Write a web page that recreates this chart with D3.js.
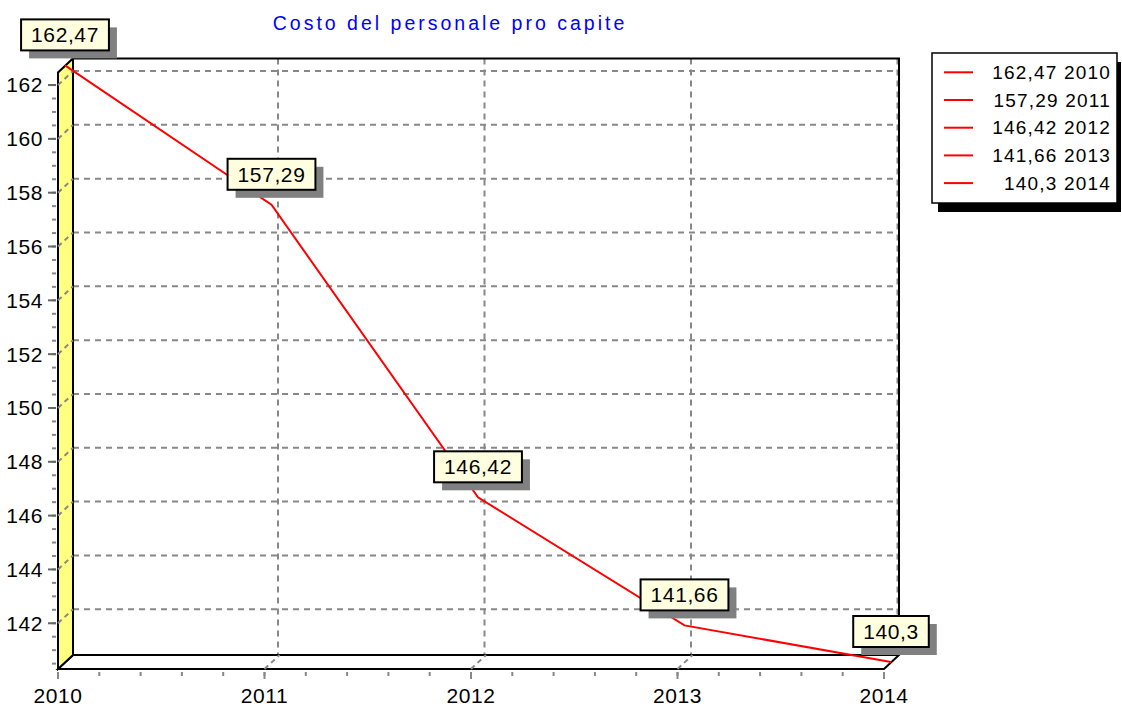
<!DOCTYPE html>
<html>
<head>
<meta charset="utf-8">
<script src="https://cdn.jsdelivr.net/npm/d3@7/dist/d3.min.js"></script>
<style>
  body { margin: 0; background: #fff; }
  svg { display: block; font-family: "Liberation Sans", Arial, sans-serif; }
</style>
</head>
<body>
<div id="chart"></div>
<script>
var title = 'Costo del personale pro capite';
var years = [2010, 2011, 2012, 2013, 2014];
var values = [162.47, 157.29, 146.42, 141.66, 140.3];

var width = 1122, height = 707;
var depth = {x: 15, y: 14};     // 3d offset of back wall
var half = {x: 7, y: 7};        // series drawn at mid depth

var svg = d3.select('#chart').append('svg')
  .attr('width', width)
  .attr('height', height);

var x = d3.scaleLinear().domain(d3.extent(years)).range([58, 884]);
var y = d3.scaleLinear().domain(d3.extent(values)).range([669, 72.4]);

function fmt(v) { return String(v).replace('.', ','); }

var x0 = x.range()[0], x1 = x.range()[1];
var y0 = y.range()[0], y1 = y.range()[1];
var grid = '#888';

// back wall
svg.append('rect')
  .attr('x', x0 + depth.x).attr('y', y1 - depth.y)
  .attr('width', x1 - x0).attr('height', y0 - y1)
  .attr('fill', '#fff');

var majorY = y.ticks(10);
var minorY = y.ticks(40);
var minorX = x.ticks(16);

// grid on back wall
var gridLayer = svg.append('g')
  .attr('stroke', grid).attr('stroke-width', 2).attr('stroke-dasharray', '6,5').attr('fill', 'none');

gridLayer.selectAll('line.h').data(majorY).enter().append('line')
  .attr('x1', x0 + depth.x).attr('x2', x1 + depth.x)
  .attr('y1', function(d) { return y(d) - depth.y; })
  .attr('y2', function(d) { return y(d) - depth.y; });

gridLayer.selectAll('line.v').data(years).enter().append('line')
  .attr('x1', function(d) { return x(d) + depth.x - 1.5; })
  .attr('x2', function(d) { return x(d) + depth.x - 1.5; })
  .attr('y1', y1 - depth.y).attr('y2', y0 - depth.y);

// back wall border
svg.append('path')
  .attr('d', 'M' + (x0 + depth.x) + ' ' + (y1 - depth.y) +
    'H' + (x1 + depth.x) + 'V' + (y0 - depth.y))
  .attr('fill', 'none').attr('stroke', '#000').attr('stroke-width', 2);

// floor
svg.append('path')
  .attr('d', 'M' + x0 + ' ' + y0 + 'L' + x1 + ' ' + y0 +
    'L' + (x1 + depth.x) + ' ' + (y0 - depth.y) +
    'L' + (x0 + depth.x) + ' ' + (y0 - depth.y) + 'Z')
  .attr('fill', '#fff').attr('stroke', '#000').attr('stroke-width', 2);

svg.append('g')
  .attr('stroke', grid).attr('stroke-width', 2).attr('stroke-dasharray', '5,4')
  .selectAll('line').data(years.slice(1, -1)).enter().append('line')
  .attr('x1', function(d) { return x(d); }).attr('y1', y0)
  .attr('x2', function(d) { return x(d) + depth.x; }).attr('y2', y0 - depth.y);

// left wall (yellow)
svg.append('path')
  .attr('d', 'M' + x0 + ' ' + y0 + 'L' + (x0 + depth.x) + ' ' + (y0 - depth.y) +
    'L' + (x0 + depth.x) + ' ' + (y1 - depth.y) + 'L' + x0 + ' ' + y1 + 'Z')
  .attr('fill', '#ffff80').attr('stroke', '#000').attr('stroke-width', 2);

svg.append('g')
  .attr('stroke', grid).attr('stroke-width', 2).attr('stroke-dasharray', '5,4')
  .selectAll('line').data(majorY).enter().append('line')
  .attr('x1', x0).attr('y1', function(d) { return y(d); })
  .attr('x2', x0 + depth.x).attr('y2', function(d) { return y(d) - depth.y; });

// y axis ticks + labels
var yAxis = svg.append('g');
yAxis.selectAll('line.minor').data(minorY).enter().append('line')
  .attr('x1', 52).attr('x2', 56)
  .attr('y1', function(d) { return y(d); }).attr('y2', function(d) { return y(d); })
  .attr('stroke', '#888').attr('stroke-width', 2);
yAxis.selectAll('line.major').data(majorY).enter().append('line')
  .attr('x1', 48).attr('x2', 56)
  .attr('y1', function(d) { return y(d); }).attr('y2', function(d) { return y(d); })
  .attr('stroke', '#666').attr('stroke-width', 2);
yAxis.selectAll('text').data(majorY).enter().append('text')
  .attr('x', 43).attr('y', function(d) { return y(d); })
  .attr('dy', '0.35em').attr('text-anchor', 'end')
  .attr('font-size', 21).attr('letter-spacing', 0.6).attr('fill', '#000')
  .text(function(d) { return d; });

// x axis ticks + labels
var xAxis = svg.append('g');
xAxis.selectAll('line.minor').data(minorX).enter().append('line')
  .attr('x1', function(d) { return x(d); }).attr('x2', function(d) { return x(d); })
  .attr('y1', y0 + 3).attr('y2', y0 + 7)
  .attr('stroke', '#888').attr('stroke-width', 2);
xAxis.selectAll('line.major').data(years).enter().append('line')
  .attr('x1', function(d) { return x(d); }).attr('x2', function(d) { return x(d); })
  .attr('y1', y0 + 3).attr('y2', y0 + 10)
  .attr('stroke', '#888').attr('stroke-width', 2);
xAxis.selectAll('text').data(years).enter().append('text')
  .attr('x', function(d) { return x(d); }).attr('y', 703)
  .attr('text-anchor', 'middle')
  .attr('font-size', 21).attr('letter-spacing', 0.6).attr('fill', '#000')
  .text(function(d) { return d; });

// series line
var pts = years.map(function(yr, i) { return [x(yr) + half.x, y(values[i]) - half.y]; });
svg.append('path')
  .attr('d', d3.line()(pts))
  .attr('fill', 'none').attr('stroke', '#f00').attr('stroke-width', 2);

// marks
var marks = svg.append('g').selectAll('g').data(pts).enter().append('g');
marks.each(function(p, i) {
  var g = d3.select(this);
  var t = g.append('text')
    .attr('x', p[0]).attr('y', p[1] - 15 - 15.5)
    .attr('dy', '0.36em')
    .attr('text-anchor', 'middle')
    .attr('font-size', 21).attr('letter-spacing', 0.6).attr('fill', '#000')
    .text(fmt(values[i]));
  var w = t.node().getComputedTextLength() + 20;
  g.insert('rect', 'text')
    .attr('x', p[0] - w / 2 + 8).attr('y', p[1] - 15 - 31 + 8)
    .attr('width', w).attr('height', 31).attr('fill', '#808080');
  g.insert('rect', 'text')
    .attr('x', p[0] - w / 2).attr('y', p[1] - 15 - 31)
    .attr('width', w).attr('height', 31)
    .attr('fill', '#ffffe0').attr('stroke', '#000').attr('stroke-width', 2);
});

// title
svg.append('text')
  .attr('x', 450).attr('y', 30)
  .attr('text-anchor', 'middle')
  .attr('font-size', 19.5).attr('letter-spacing', 3)
  .attr('fill', '#0000ff')
  .text(title);

// legend
var lg = svg.append('g');
lg.append('rect').attr('x', 938).attr('y', 62).attr('width', 183).attr('height', 150).attr('fill', '#000');
lg.append('rect').attr('x', 932).attr('y', 53).attr('width', 185).attr('height', 150)
  .attr('fill', '#fff').attr('stroke', '#000').attr('stroke-width', 1.5);
var rows = lg.selectAll('g').data(years).enter().append('g')
  .attr('transform', function(d, i) { return 'translate(0,' + (72.3 + i * 27.7) + ')'; });
rows.append('line').attr('x1', 944).attr('x2', 973).attr('stroke', '#f00').attr('stroke-width', 2);
rows.append('text')
  .attr('x', 1111).attr('dy', '0.35em').attr('text-anchor', 'end')
  .attr('font-size', 19).attr('letter-spacing', 1.2)
  .text(function(d, i) { return fmt(values[i]) + ' ' + d; });
</script>
</body>
</html>
